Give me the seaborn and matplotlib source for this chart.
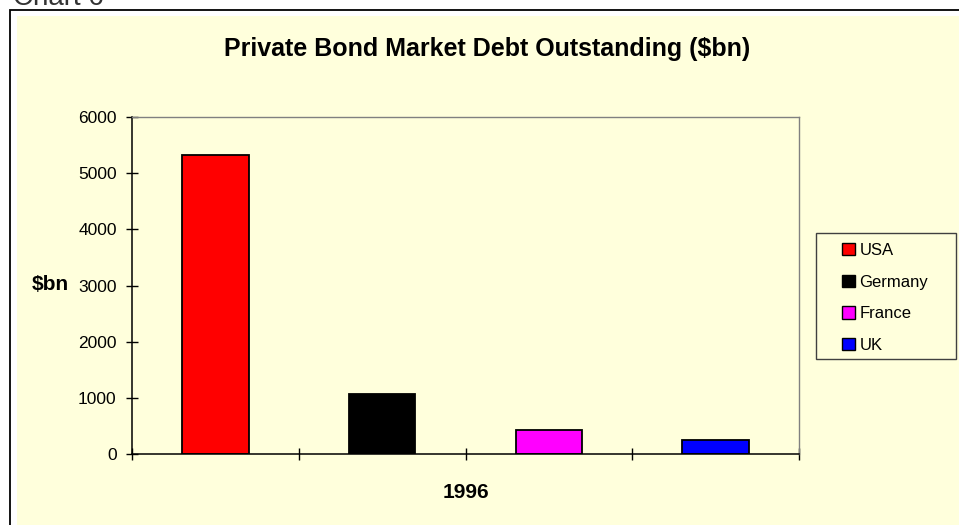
import matplotlib
matplotlib.use("Agg")
import matplotlib.pyplot as plt
from matplotlib.patches import Rectangle, Patch
import seaborn as sns
import pandas as pd

# Private bond market debt outstanding, 1996 ($bn)
countries = ["USA", "Germany", "France", "UK"]
debt_bn = [5330, 1070, 420, 250]
bar_colors = ["#FF0000", "#000000", "#FF00FF", "#0000FF"]
year_label = "1996"
y_ticks = [0, 1000, 2000, 3000, 4000, 5000, 6000]

df = pd.DataFrame({"country": countries, "debt": debt_bn})
palette = dict(zip(countries, bar_colors))

sns.set_theme(style="white")
plt.rcParams["font.family"] = ["Liberation Sans", "DejaVu Sans"]
plt.rcParams["text.color"] = "black"

BG = "#FFFFDC"
W, H = 959, 525
fig = plt.figure(figsize=(W / 100, H / 100), dpi=100)
fig.patch.set_facecolor("white")

# chart area: black outer border, thin white margin, yellow fill
fig.patches.append(Rectangle((10 / W, -0.1), 1.2, 1 - 10 / H + 0.1,
                             transform=fig.transFigure, facecolor="white",
                             edgecolor="black", linewidth=1.3, zorder=-3))
fig.patches.append(Rectangle((17 / W, -0.1), 1.2, 1 - 16 / H + 0.1,
                             transform=fig.transFigure, facecolor=BG,
                             edgecolor="none", zorder=-2))

fig.text(13 / W, 1 - 5 / H, "Chart 6", fontsize=20, color="#333333",
         ha="left", va="baseline")

ax = fig.add_axes([132 / W, 1 - 454 / H, (799 - 132) / W, (454 - 117) / H])
ax.set_facecolor(BG)

sns.barplot(data=df, x="country", y="debt", hue="country", order=countries,
            hue_order=countries, palette=palette, width=0.4, dodge=False,
            edgecolor="black", linewidth=1.3, saturation=1, legend=False, ax=ax)

ax.set_xlim(-0.5, len(countries) - 0.5)
ax.set_ylim(0, 6000)
ax.set_yticks(y_ticks)
ax.set_yticklabels([str(t) for t in y_ticks], fontsize=12.5, color="black")
ax.set_xticks([i - 0.5 for i in range(len(countries) + 1)])
ax.set_xticklabels([])
ax.set_xlabel("")
ax.set_ylabel("")
ax.tick_params(axis="both", direction="inout", length=8, width=1,
               color="black", left=True, bottom=True, pad=7)

for side in ("left", "bottom"):
    ax.spines[side].set_color("black")
    ax.spines[side].set_linewidth(1.1)
for side in ("top", "right"):
    ax.spines[side].set_color("#808080")
    ax.spines[side].set_linewidth(1.0)
    ax.spines[side].set_visible(True)

fig.text(487.5 / W, 1 - 56 / H, "Private Bond Market Debt Outstanding ($bn)",
         fontsize=18, fontweight="bold", ha="center", va="baseline")
fig.text(32 / W, 1 - 285 / H, "$bn", fontsize=15, fontweight="bold",
         ha="left", va="center")
fig.text(465.5 / W, 1 - 492 / H, year_label, fontsize=15, fontweight="bold",
         ha="center", va="center")

# legend box
fig.patches.append(Rectangle((816 / W, 1 - 359 / H), (956 - 816) / W, (359 - 233) / H,
                             transform=fig.transFigure, facecolor=BG,
                             edgecolor="#404040", linewidth=1.0, zorder=1))
handles = [Patch(facecolor=c, edgecolor="black", linewidth=1.0, label=n)
           for n, c in zip(countries, bar_colors)]
leg = fig.legend(handles=handles, loc="center left",
                 bbox_to_anchor=(842 / W, 1 - 298 / H), frameon=False,
                 fontsize=12, handlelength=0.75, handleheight=0.75,
                 handletextpad=0.3, labelspacing=1.0, borderpad=0,
                 borderaxespad=0)
leg.set_zorder(2)

fig.savefig("out.png", dpi=100, facecolor=fig.get_facecolor())
